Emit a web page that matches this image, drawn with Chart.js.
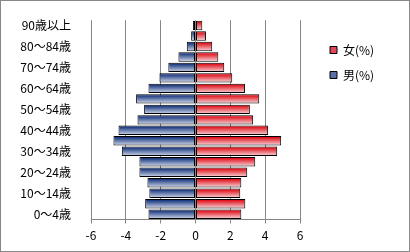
<!DOCTYPE html>
<html>
<head>
<meta charset="utf-8">
<script src="https://cdn.jsdelivr.net/npm/chart.js@4"></script>
<style>
  html, body { margin: 0; padding: 0; background: #fff; }
  #wrap { width: 410px; height: 252px; box-sizing: border-box; border: 1px solid #888; background: #fff; }
  canvas { display: block; }
</style>
</head>
<body>
<div id="wrap"><canvas id="c" width="408" height="250"></canvas></div>
<script>
// Age groups, bottom (youngest) to top (oldest)
const categories = ['0～4歳','5～9歳','10～14歳','15～19歳','20～24歳','25～29歳','30～34歳','35～39歳','40～44歳','45～49歳','50～54歳','55～59歳','60～64歳','65～69歳','70～74歳','75～79歳','80～84歳','85～89歳','90歳以上'];
// Share of population (%), men shown as negative values
const male   = [-2.70,-2.89,-2.65,-2.76,-3.22,-3.22,-4.23,-4.71,-4.42,-3.33,-2.95,-3.41,-2.70,-2.07,-1.56,-0.98,-0.50,-0.25,-0.15];
const female = [2.63,2.86,2.57,2.63,2.97,3.43,4.69,4.92,4.17,3.31,3.12,3.66,2.84,2.11,1.65,1.31,0.96,0.60,0.39];
const seriesNames = ['女(%)', '男(%)'];
const xTicks = { min: -6, max: 6, step: 2 };

const FONT = '"Noto Sans CJK JP", "Noto Sans", sans-serif';
const CAT_PCT = 0.9;

function barGradient(dark, light) {
  return (c) => {
    const chart = c.chart;
    const area = chart.chartArea;
    if (!area || c.dataIndex === undefined || !chart.scales.y) return dark;
    const y = chart.scales.y.getPixelForValue(c.dataIndex);
    const half = (area.bottom - area.top) / categories.length * CAT_PCT / 2;
    const g = chart.ctx.createLinearGradient(0, y - half, 0, y + half);
    g.addColorStop(0, dark);
    g.addColorStop(0.15, dark);
    g.addColorStop(1, light);
    return g;
  };
}

const legendShift = {
  id: 'legendShift',
  beforeInit(chart) {
    const lg = chart.legend;
    if (!lg) return;
    const origFit = lg.fit;
    lg.fit = function () { origFit.call(this); this.width = 109; };
  },
  afterLayout(chart) {
    const lg = chart.legend;
    if (!lg) return;
    lg.left += 17; lg.right += 17;
    lg.top += 19; lg.bottom += 19;
  }
};

new Chart(document.getElementById('c'), {
  type: 'bar',
  data: {
    labels: categories,
    datasets: [
      {
        label: seriesNames[0],
        data: female,
        backgroundColor: barGradient('#e0141e', '#f7dade'),
        borderColor: '#000',
        borderWidth: 1,
        borderSkipped: false,
        categoryPercentage: CAT_PCT,
        barPercentage: 1.0
      },
      {
        label: seriesNames[1],
        data: male,
        backgroundColor: barGradient('#1c3a80', '#d4dbec'),
        borderColor: '#000',
        borderWidth: 1,
        borderSkipped: false,
        categoryPercentage: CAT_PCT,
        barPercentage: 1.0
      }
    ]
  },
  options: {
    indexAxis: 'y',
    responsive: false,
    animation: false,
    layout: { padding: { left: 0, top: 11, right: 0, bottom: 0 } },
    scales: {
      x: {
        stacked: true,
        min: xTicks.min,
        max: xTicks.max,
        afterFit: (s) => { s.height = 31.5; },
        ticks: { stepSize: xTicks.step, color: '#000', font: { family: FONT, size: 12 }, padding: 5 },
        grid: { color: '#868686', lineWidth: 1, tickLength: 4, drawTicks: true },
        border: { display: true, color: '#868686' }
      },
      y: {
        stacked: true,
        reverse: true,
        afterFit: (s) => { s.width = 90; },
        grid: { display: false },
        border: { display: false },
        ticks: {
          autoSkip: false,
          color: '#000',
          font: { family: FONT, size: 12 },
          padding: 12,
          callback: function (value, index) { return index % 2 === 0 ? this.getLabelForValue(value) : ''; }
        }
      }
    },
    plugins: {
      tooltip: { enabled: false },
      legend: {
        position: 'right',
        align: 'start',
        labels: {
          boxWidth: 7,
          boxHeight: 7,
          padding: 13,
          color: '#000',
          font: { family: FONT, size: 12 },
          generateLabels: (chart) => [
            { text: seriesNames[0], fillStyle: '#e04858', strokeStyle: '#000', lineWidth: 1, datasetIndex: 0, hidden: false },
            { text: seriesNames[1], fillStyle: '#5a6ea8', strokeStyle: '#000', lineWidth: 1, datasetIndex: 1, hidden: false }
          ]
        }
      }
    }
  },
  plugins: [legendShift]
});
</script>
</body>
</html>
